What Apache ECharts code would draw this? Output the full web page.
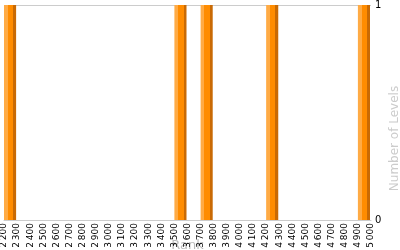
<!DOCTYPE html>
<html><head><meta charset="utf-8">
<script src="https://cdn.jsdelivr.net/npm/echarts@6/dist/echarts.min.js"></script>
<style>html,body{margin:0;padding:0;background:#fff}#c{width:400px;height:250px}</style>
</head><body><div id="c"></div>
<script>
const binStarts = [2200, 3500, 3700, 4200, 4900];
const binCounts = [1, 1, 1, 1, 1];
const binWidth = 100;
const rankMin = 2200, rankMax = 5000, rankStep = 100;
const countMin = 0, countMax = 1;

const chart = echarts.init(document.getElementById('c'), null, {renderer: 'canvas'});
const fill = new echarts.graphic.LinearGradient(0, 0, 1, 0, [
  {offset: 0, color: '#ffab45'}, {offset: 0.3, color: '#ffab45'},
  {offset: 0.3, color: '#ff8c00'}, {offset: 0.76, color: '#ff8c00'},
  {offset: 0.76, color: '#c96a04'}, {offset: 1, color: '#c96a04'}
]);
function fmtRank(v) {
  const s = String(v);
  return s.length > 3 ? s.slice(0, s.length - 3) + '\u2009' + s.slice(-3) : s;
}
chart.setOption({
  animation: false,
  grid: {left: 4, right: 29, top: 5, bottom: 30, containLabel: false, outerBoundsMode: 'none'},
  xAxis: {
    type: 'value', min: rankMin, max: rankMax, interval: rankStep,
    name: 'Rank', nameLocation: 'middle', nameGap: 19, nameMoveOverlap: false,
    nameTextStyle: {color: '#bbbbbb', fontSize: 13, fontFamily: 'DejaVu Sans'},
    axisLine: {show: true, lineStyle: {color: '#cccccc', width: 1}},
    axisTick: {show: false},
    splitLine: {show: false},
    axisLabel: {rotate: 90, fontSize: 9, color: '#000', margin: 3, fontFamily: 'DejaVu Sans',
      showMinLabel: true, showMaxLabel: true, hideOverlap: false, formatter: fmtRank}
  },
  yAxis: {
    type: 'value', position: 'right', min: countMin, max: countMax, interval: 1,
    name: 'Number of Levels', nameLocation: 'middle', nameGap: 18, nameRotate: 90, nameMoveOverlap: false,
    nameTextStyle: {color: '#cccccc', fontSize: 12, fontFamily: 'DejaVu Sans', padding: [0, 52, 0, 0]},
    axisLine: {show: false}, axisTick: {show: false},
    splitLine: {show: true, lineStyle: {color: '#cccccc', width: 1}},
    axisLabel: {fontSize: 10, color: '#000', margin: 4, fontFamily: 'DejaVu Sans'}
  },
  series: [{
    type: 'custom',
    data: binStarts.map((s, i) => [s, binCounts[i]]),
    renderItem: function (params, api) {
      const s = api.value(0), c = api.value(1);
      const p1 = api.coord([s, c]);
      const p2 = api.coord([s + binWidth, 0]);
      return {
        type: 'rect',
        shape: {x: p1[0], y: p1[1], width: p2[0] - p1[0] - 1, height: p2[1] - p1[1]},
        style: {fill: fill}
      };
    }
  }]
});
</script></body></html>
